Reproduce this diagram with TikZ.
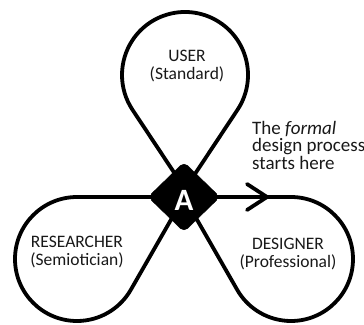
\documentclass[tikz,border=0pt]{standalone}
\usepackage{fontspec}
\setmainfont{Carlito}
\usetikzlibrary{shapes.geometric}
\begin{document}
\begin{tikzpicture}[x=1pt,y=1pt,
  curve/.style={draw=black, line width=3.8pt, line join=round},
  lbl/.style={align=center, font=\fontsize{17.5}{18.5}\selectfont, text=black!90, inner sep=0pt},
  note/.style={align=left, anchor=north west, font=\fontsize{19}{17.5}\selectfont, text=black!90, inner sep=0pt},
  hub/.style={diamond, fill=black, draw=black, minimum width=72pt, minimum height=70pt, inner sep=0pt, rounded corners=5pt}]
\useasboundingbox (0,0) rectangle (364,324);
\fill[white] (0,0) rectangle (364,324);
\coordinate (C) at (184,127);
\coordinate (P) at (185,135);
% designer loop: tangent lines from C to a circle (centre (291,65), r 62)
\coordinate (dtop) at (291,127);
\draw[curve] (C) -- (dtop) arc[start angle=90, end angle=-150.1, radius=62pt] -- (C);
% researcher loop: mirror image (centre (77,65), r 62)
\coordinate (rtop) at (77,127);
\draw[curve] (C) -- (rtop) arc[start angle=90, end angle=330.1, radius=62pt] -- (C);
% user loop: tangent lines from P to a circle (centre (185,249), r 63)
\coordinate (utr) at (237.5,214.2);
\draw[curve] (P) -- (utr) arc[start angle=-33.55, end angle=213.55, radius=63pt] -- (P);
% arrow chevron
\coordinate (a1) at (247,140);
\coordinate (a2) at (267,127);
\coordinate (a3) at (247,114);
\draw[curve, line cap=round] (a1) -- (a2) -- (a3);
% hub
\node[hub] (hubnode) at (C) {};
\node[text=white, font=\fontsize{31}{31}\bfseries\selectfont, inner sep=0pt] (A) at ([yshift=-3pt]C) {A};
% labels
\node[lbl] (user) at (187,258) {USER\\(Standard)};
\node[lbl] (researcher) at (77,72) {RESEARCHER\\(Semiotician)};
\node[lbl] (designer) at (288,70) {DESIGNER\\(Professional)};
\node[note] (startnote) at (252,203) {The \textit{formal}\\design process\\starts here};
\end{tikzpicture}
\end{document}
